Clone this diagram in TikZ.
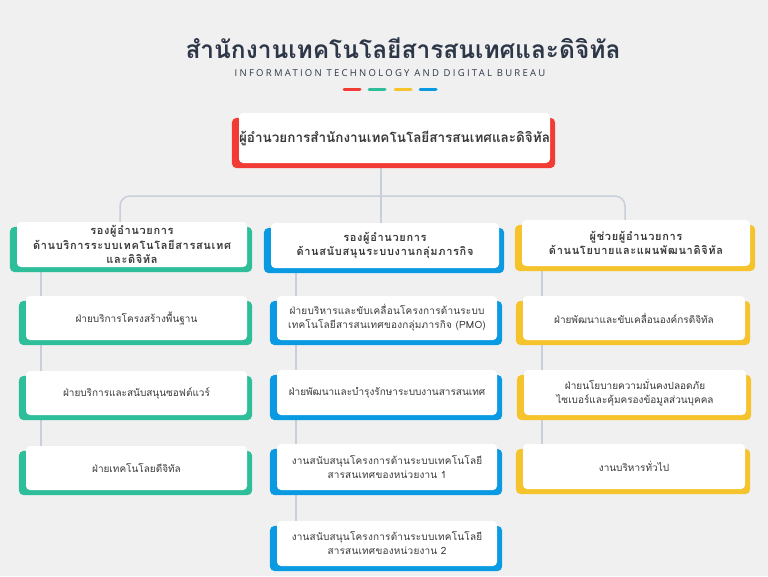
\documentclass[tikz,border=0pt]{standalone}
\usepackage{fontspec}
\newfontfamily\thai[Script=Thai]{Loma}
\newfontfamily\thaisp[Script=Thai,LetterSpace=6]{Loma}
\newfontfamily\thaismsp[Script=Thai,LetterSpace=2]{Loma}
\newfontfamily\latsp[LetterSpace=24]{Open Sans}
\definecolor{bgc}{HTML}{F0F0F0}
\definecolor{ttl}{HTML}{2D3748}
\definecolor{txt}{HTML}{3A3A3A}
\definecolor{conn}{HTML}{C8CFDA}
\definecolor{cred}{HTML}{F23B34}
\definecolor{cgreen}{HTML}{2EBE99}
\definecolor{cyellow}{HTML}{F5C32C}
\definecolor{cblue}{HTML}{0A9AE2}
\pgfdeclarelayer{bg}
\pgfdeclarelayer{mid}
\pgfsetlayers{bg,mid,main}
\tikzset{
  card/.style={fill=white, rounded corners=4pt, inner sep=0pt, align=center, text=txt},
  toptxt/.style={font=\thai\bfseries\fontsize{13.5}{16}\selectfont},
  headtxt/.style={font=\thaisp\bfseries\fontsize{11}{14.5}\selectfont},
  childtxt/.style={font=\thai\fontsize{10}{14}\selectfont},
  childsp/.style={font=\thaismsp\fontsize{10}{14}\selectfont},
  connline/.style={draw=conn, line width=1.5pt},
  dashbar/.style={line width=3pt, line cap=round}
}
\newcommand\orgbox[8]{%
  \node[card, #8, minimum width={#5-#3}, minimum height={#6-#4}] (#1) at ({(#3+#5)/2},{(#4+#6)/2}) {#7};
  \begin{pgfonlayer}{mid}
  \fill[#2, rounded corners=5pt] ([xshift=-7pt,yshift=-5pt]#1.north west) rectangle ([xshift=5pt,yshift=-5pt]#1.south east);
  \end{pgfonlayer}}
\begin{document}
\begin{tikzpicture}[x=1pt,y=-1pt]
\useasboundingbox (0,0) rectangle (768,576);
\begin{pgfonlayer}{bg}
\fill[bgc] (0,0) rectangle (768,576);
\end{pgfonlayer}
% title
\node[font=\thai\bfseries\fontsize{24.5}{28}\selectfont, text=ttl, inner sep=0pt] (title) at (403,48) {สำนักงานเทคโนโลยีสารสนเทศและดิจิทัล};
\node[font=\latsp\fontsize{9.5}{11}\selectfont, text=ttl, inner sep=0pt] (sub) at (390,73) {INFORMATION TECHNOLOGY AND DIGITAL BUREAU};
\coordinate (d1a) at (344,89); \coordinate (d1b) at (360,89);
\coordinate (d2a) at (369,89); \coordinate (d2b) at (385,89);
\coordinate (d3a) at (395,89); \coordinate (d3b) at (411,89);
\coordinate (d4a) at (420,89); \coordinate (d4b) at (436,89);
\draw[dashbar, cred] (d1a) -- (d1b);
\draw[dashbar, cgreen] (d2a) -- (d2b);
\draw[dashbar, cyellow] (d3a) -- (d3b);
\draw[dashbar, cblue] (d4a) -- (d4b);
% top
\orgbox{top}{cred}{239}{113}{550}{163}{ผู้อำนวยการสำนักงานเทคโนโลยีสารสนเทศและดิจิทัล}{toptxt}
% heads
\orgbox{hl}{cgreen}{17}{222}{247}{267}{รองผู้อำนวยการ\\ด้านบริการระบบเทคโนโลยีสารสนเทศ\\และดิจิทัล}{headtxt}
\orgbox{hm}{cblue}{271}{223}{499}{268}{รองผู้อำนวยการ\\ด้านสนับสนุนระบบงานกลุ่มภารกิจ}{headtxt}
\orgbox{hr}{cyellow}{522}{220}{750}{266}{ผู้ช่วยผู้อำนวยการ\\ด้านนโยบายและแผนพัฒนาดิจิทัล}{headtxt}
% left children
\orgbox{l1}{cgreen}{26}{296}{247}{340}{ฝ่ายบริการโครงสร้างพื้นฐาน}{childtxt}
\orgbox{l2}{cgreen}{26}{371}{247}{415}{ฝ่ายบริการและสนับสนุนซอฟต์แวร์}{childtxt}
\orgbox{l3}{cgreen}{26}{446}{247}{490}{ฝ่ายเทคโนโลยดีจิทัล}{childtxt}
% middle children
\orgbox{m1}{cblue}{277}{296}{497}{340}{ฝ่ายบริหารและขับเคลื่อนโครงการด้านระบบ\\เทคโนโลยีสารสนเทศของกลุ่มภารกิจ (PMO)}{childsp}
\orgbox{m2}{cblue}{277}{370}{497}{415}{ฝ่ายพัฒนาและบำรุงรักษาระบบงานสารสนเทศ}{childtxt}
\orgbox{m3}{cblue}{277}{444}{497}{490}{งานสนับสนุนโครงการด้านระบบเทคโนโลยี\\สารสนเทศของหน่วยงาน 1}{childsp}
\orgbox{m4}{cblue}{277}{521}{497}{566}{งานสนับสนุนโครงการด้านระบบเทคโนโลยี\\สารสนเทศของหน่วยงาน 2}{childsp}
% right children
\orgbox{r1}{cyellow}{523}{296}{745}{340}{ฝ่ายพัฒนาและขับเคลื่อนองค์กรดิจิทัล}{childtxt}
\orgbox{r2}{cyellow}{524}{370}{746}{415}{ฝ่ายนโยบายความมั่นคงปลอดภัย\\ไซเบอร์และคุ้มครองข้อมูลส่วนบุคคล}{childtxt}
\orgbox{r3}{cyellow}{523}{444}{745}{489}{งานบริหารทั่วไป}{childtxt}
% connectors
\coordinate (jL) at (120,222);
\coordinate (jM) at (381,223);
\coordinate (jR) at (625,220);
\coordinate (bus) at (381,196);
\coordinate (cL) at (41,0);
\coordinate (cM) at (296,0);
\coordinate (cR) at (542,0);
\begin{pgfonlayer}{bg}
\draw[connline] (top.south -| jM) -- (jM);
\draw[connline, rounded corners=10pt] (jL) |- (bus) -| (jR);
\draw[connline] (hl.south -| cL) -- (l3.north -| cL);
\draw[connline] (hm.south -| cM) -- (m4.north -| cM);
\draw[connline] (hr.south -| cR) -- (r3.north -| cR);
\end{pgfonlayer}
\end{tikzpicture}
\end{document}
